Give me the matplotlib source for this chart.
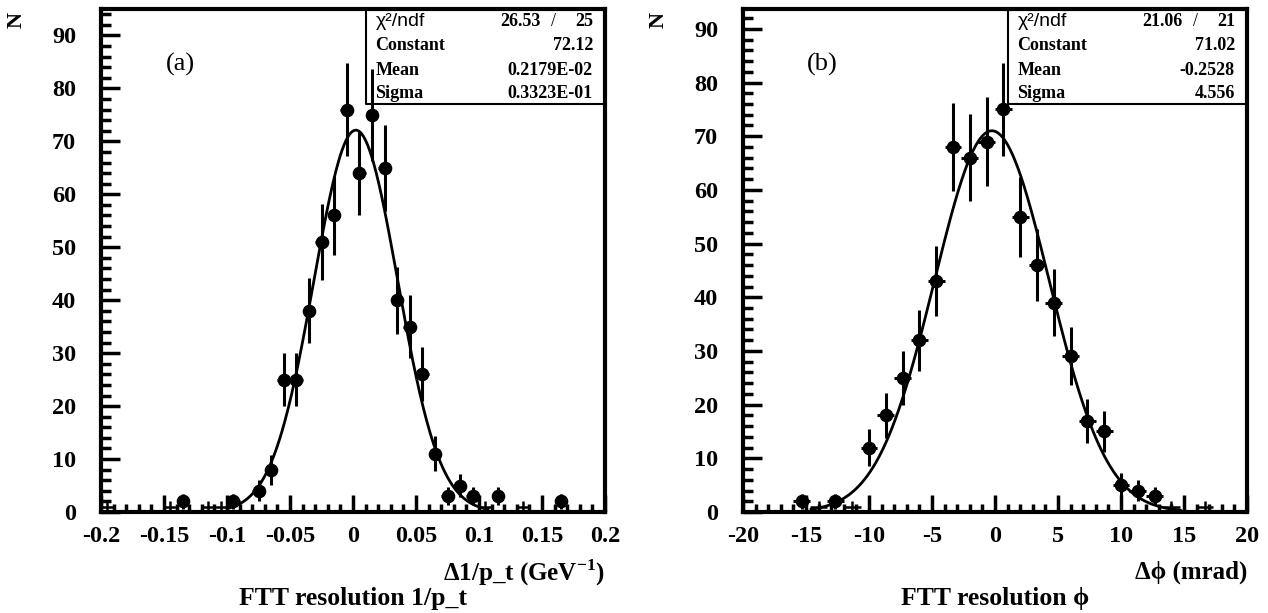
import matplotlib
matplotlib.use("Agg")
import matplotlib.pyplot as plt
import numpy as np
from matplotlib.ticker import MultipleLocator

# panel (a): FTT resolution 1/p_t
pt_centers = [-0.135, -0.095, -0.075, -0.065, -0.055, -0.045, -0.035, -0.025, -0.015, -0.005,
              0.005, 0.015, 0.025, 0.035, 0.045, 0.055, 0.065, 0.075, 0.085, 0.095, 0.115, 0.165]
pt_counts = [2, 2, 4, 8, 25, 25, 38, 51, 56, 76,
             64, 75, 65, 40, 35, 26, 11, 3, 5, 3, 3, 2]
pt_single = [-0.195, -0.145, -0.115, -0.105, 0.105, 0.135]  # bins with one entry, no marker
pt_fit = {"chi2": "26.53", "ndf": "25", "const": 72.12, "mean": 0.2179e-02, "sigma": 0.3323e-01}
pt_fit_text = ["72.12", "0.2179E-02", "0.3323E-01"]

# panel (b): FTT resolution phi
phi_centers = [-15.333, -12.667, -10.0, -8.667, -7.333, -6.0, -4.667, -3.333, -2.0, -0.667,
               0.667, 2.0, 3.333, 4.667, 6.0, 7.333, 8.667, 10.0, 11.333, 12.667]
phi_counts = [2, 2, 12, 18, 25, 32, 43, 68, 66, 69,
              75, 55, 46, 39, 29, 17, 15, 5, 4, 3]
phi_single = [-14.0, -11.333, 14.0, 16.667]
phi_fit = {"chi2": "21.06", "ndf": "21", "const": 71.02, "mean": -0.2528, "sigma": 4.556}
phi_fit_text = ["71.02", "-0.2528", "4.556"]

SERIF = ["Liberation Serif", "DejaVu Serif"]
plt.rcParams["font.family"] = SERIF
plt.rcParams["mathtext.fontset"] = "custom"
plt.rcParams["mathtext.rm"] = "Liberation Serif:bold"
plt.rcParams["mathtext.bf"] = "Liberation Serif:bold"

fig = plt.figure(figsize=(12.68, 6.13), dpi=100)


def draw_panel(ax, centers, counts, single, binw, fit, fit_text, xlim, ylim_top,
               major, minor, fit_range, tag, xlabel, title):
    centers = np.array(centers)
    counts = np.array(counts, dtype=float)
    ax.errorbar(centers, counts, yerr=np.sqrt(counts), xerr=binw / 2, fmt="o", color="black",
                markersize=8.8, elinewidth=2.2, capsize=0)
    ax.errorbar(single, np.ones(len(single)), yerr=1, xerr=binw / 2, fmt="none",
                ecolor="black", elinewidth=1.8, capsize=0)
    xs = np.linspace(fit_range[0], fit_range[1], 400)
    ax.plot(xs, fit["const"] * np.exp(-0.5 * ((xs - fit["mean"]) / fit["sigma"]) ** 2),
            color="black", lw=2)

    ax.set_xlim(*xlim)
    ax.set_ylim(0, ylim_top)
    ax.xaxis.set_major_locator(MultipleLocator(major))
    ax.xaxis.set_minor_locator(MultipleLocator(minor))
    ax.yaxis.set_major_locator(MultipleLocator(10))
    ax.yaxis.set_minor_locator(MultipleLocator(2))
    ax.tick_params(axis="both", which="both", direction="in", top=False, right=False, width=2.5)
    ax.tick_params(axis="x", which="major", length=12, pad=10)
    ax.tick_params(axis="x", which="minor", length=6)
    ax.tick_params(axis="y", which="major", length=14, pad=18)
    ax.tick_params(axis="y", which="minor", length=7)
    for s in ax.spines.values():
        s.set_linewidth(3)
    ax.xaxis.set_major_formatter(plt.FuncFormatter(lambda v, p: f"{v:g}"))
    for lab in ax.get_xticklabels() + ax.get_yticklabels():
        lab.set_fontweight("bold")
        lab.set_fontsize(17.5)

    # stats box
    bx0, by0 = 0.526, 0.811
    ax.plot([bx0, bx0, 1], [1, by0, by0], transform=ax.transAxes, color="black", lw=1.5,
            clip_on=False)
    rows = [0.975, 0.928, 0.878, 0.832]
    ax.text(bx0 + 0.02, rows[0], "χ²/ndf", transform=ax.transAxes, fontsize=14,
            family=["Liberation Sans", "DejaVu Sans"], va="center", ha="left")
    ax.text(0.872, rows[0], fit["chi2"], transform=ax.transAxes, fontsize=13,
            fontweight="bold", va="center", ha="right")
    ax.text(0.898, rows[0], "/", transform=ax.transAxes, fontsize=13,
            va="center", ha="center")
    ax.text(0.976, rows[0], fit["ndf"], transform=ax.transAxes, fontsize=13,
            fontweight="bold", va="center", ha="right")
    for name, val, y in zip(["Constant", "Mean", "Sigma"], fit_text, rows[1:]):
        ax.text(bx0 + 0.018, y, name, transform=ax.transAxes, fontsize=13,
                fontweight="bold", va="center", ha="left")
        ax.text(0.976, y, val, transform=ax.transAxes, fontsize=13,
                fontweight="bold", va="center", ha="right")

    ax.text(0.157, 0.89, tag, transform=ax.transAxes, fontsize=19, va="center", ha="center")
    ax.text(1.0, -0.12, xlabel, transform=ax.transAxes, fontsize=18, fontweight="bold",
            va="center", ha="right")
    ax.text(0.5, -0.172, title, transform=ax.transAxes, fontsize=18.5, fontweight="bold",
            va="center", ha="center")


ax1 = fig.add_axes([0.0797, 0.1648, 0.3975, 0.8205])
draw_panel(ax1, pt_centers, pt_counts, pt_single, 0.01, pt_fit, pt_fit_text,
           (-0.2, 0.2), 95, 0.05, 0.01, (-0.1, 0.107), "(a)",
           r"Δ1/p_t (GeV$^{\mathbf{-1}}$)", "FTT resolution 1/p_t")

ax2 = fig.add_axes([0.586, 0.1648, 0.3975, 0.8205])
draw_panel(ax2, phi_centers, phi_counts, phi_single, 4 / 3, phi_fit, phi_fit_text,
           (-20, 20), 93.7, 5, 1, (-14.6, 14.7), "(b)",
           "Δϕ (mrad)", "FTT resolution ϕ")

fig.text(17 / 1268, 1 - 20 / 613, "N", rotation=90, fontsize=16, fontweight="bold",
         va="center", ha="center")
fig.text(659 / 1268, 1 - 20 / 613, "N", rotation=90, fontsize=16, fontweight="bold",
         va="center", ha="center")

fig.savefig("out.png", dpi=100)
